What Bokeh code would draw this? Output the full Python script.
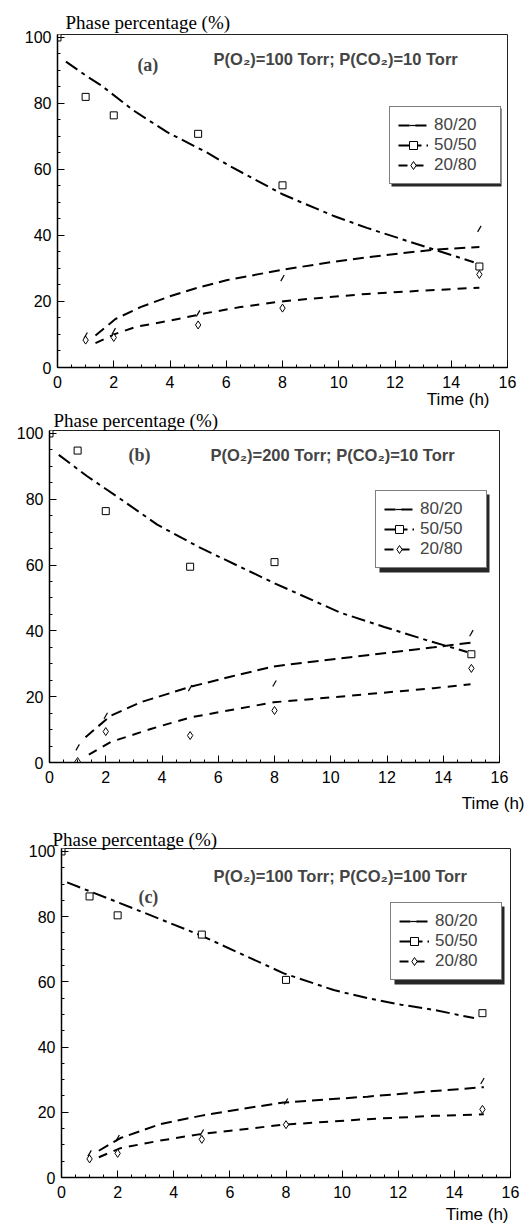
from bokeh.plotting import figure
from bokeh.models import Legend, LegendItem, Label, Title, SingleIntervalTicker, Range1d, BoxAnnotation
from bokeh.embed import file_html
from bokeh.resources import INLINE

# ---------------- data ----------------
t_sq = [0, 1, 2, 5, 8, 15]
t_obs = [1, 2, 5, 8, 15]

# panel (a)
a_5050 = [100, 82, 76.4, 70.8, 55.2, 30.6]
a_8020 = [9.7, 11.0, 16.4, 27.1, 42.0]
a_2080 = [8.3, 9.1, 12.9, 18.0, 28.2]
a_fit5050_x = [0.3, 1.0, 1.55, 2.7, 3.9, 5.3, 6.2, 8.0, 8.6, 9.8, 11.0, 12.2, 13.4, 14.8]
a_fit5050_y = [92.7, 88.5, 85.5, 77.9, 71.3, 65.2, 60.7, 52.5, 50.3, 46.0, 42.3, 39.0, 35.7, 31.9]
a_fit8020_x = [1.35, 2.06, 2.95, 4.0, 5.03, 6.04, 8.05, 9.8, 11.0, 12.2, 13.4, 15.0]
a_fit8020_y = [9.7, 14.7, 18.3, 21.6, 24.3, 26.5, 29.7, 32.0, 33.4, 34.6, 35.7, 36.5]
a_fit2080_x = [1.35, 2.06, 2.83, 4.0, 5.3, 6.5, 8.05, 9.5, 11.0, 13.0, 15.0]
a_fit2080_y = [7.4, 10.2, 12.4, 14.2, 16.5, 18.3, 20.1, 21.2, 22.3, 23.3, 24.2]

# panel (b)
b_5050 = [100, 94.8, 76.4, 59.5, 60.9, 32.9]
b_8020 = [4.6, 14.2, 22.6, 24.0, 39.3]
b_2080 = [0.3, 9.4, 8.2, 15.8, 28.6]
b_fit5050_x = [0.33, 1.34, 2.64, 3.83, 5.37, 7.97, 10.35, 11.9, 13.4, 14.85]
b_fit5050_y = [93.5, 87.0, 79.4, 72.3, 65.2, 54.6, 45.5, 41.2, 37.2, 33.6]
b_fit8020_x = [1.28, 2.17, 3.24, 5.01, 6.5, 7.97, 10.7, 13.66, 14.97]
b_fit8020_y = [7.7, 14.2, 18.3, 23.0, 26.2, 29.2, 32.0, 35.0, 36.4]
b_fit2080_x = [1.4, 2.17, 3.6, 5.01, 7.97, 10.7, 13.66, 14.97]
b_fit2080_y = [2.4, 6.2, 10.2, 13.7, 18.3, 20.3, 22.6, 23.8]

# panel (c)
c_5050 = [100, 86.2, 80.4, 74.5, 60.6, 50.4]
c_8020 = [7.4, 12.1, 13.8, 23.3, 29.6]
c_2080 = [5.7, 7.4, 11.7, 16.2, 20.9]
c_fit5050_x = [0.2, 1.98, 3.47, 4.95, 6.5, 7.92, 9.7, 10.9, 12.1, 13.27, 14.7]
c_fit5050_y = [90.5, 84.5, 79.4, 74.3, 68.2, 62.6, 57.5, 55.0, 53.0, 51.4, 48.9]
c_fit8020_x = [1.33, 2.1, 3.53, 4.95, 6.4, 7.92, 10.9, 13.27, 15.05]
c_fit8020_y = [8.2, 12.1, 16.4, 18.9, 21.0, 23.0, 24.8, 26.5, 27.7]
c_fit2080_x = [1.33, 2.1, 3.5, 4.95, 7.92, 10.9, 13.27, 15.05]
c_fit2080_y = [6.2, 9.0, 11.3, 13.3, 16.2, 17.9, 18.9, 19.4]

series_labels = ["80/20", "50/50", "20/80"]
panel_tags = ["(a)", "(b)", "(c)"]
conditions = ["P(O\u2082)=100 Torr; P(CO\u2082)=10 Torr",
              "P(O\u2082)=200 Torr; P(CO\u2082)=10 Torr",
              "P(O\u2082)=100 Torr; P(CO\u2082)=100 Torr"]
y_title = "Phase percentage (%)"
x_title = "Time (h)"

SANS = "Liberation Sans"
SERIF = "Liberation Serif"
Y_TOP = 100.9
LEG_W = 110   # legend box size in px (padding*2 + glyph + standoff + label)
LEG_H = 78


def make_panel(tag, cond, sq, hk, dm, f50x, f50y, f80x, f80y, f20x, f20y,
               left, right, top, bottom, fw, fh, tag_xy, cond_xy, leg_loc, shadow,
               yt_offset, yt_standoff, xt_offset, xt_standoff):
    p = figure(frame_width=fw, frame_height=fh, output_backend="svg", toolbar_location=None,
               x_range=Range1d(0, 16), y_range=Range1d(0, Y_TOP),
               min_border_left=left, min_border_right=right,
               min_border_top=top, min_border_bottom=bottom)
    p.background_fill_color = "white"
    p.border_fill_color = "white"
    p.grid.visible = False
    p.outline_line_color = "#222222"
    p.outline_line_width = 1

    p.title.text = y_title
    p.title.align = "left"
    p.title.offset = yt_offset
    p.title.standoff = yt_standoff
    p.title.text_font = SERIF
    p.title.text_font_size = "19px"
    p.title.text_font_style = "normal"
    p.title.text_color = "black"

    p.xaxis.ticker = SingleIntervalTicker(interval=2, num_minor_ticks=4)
    p.yaxis.ticker = SingleIntervalTicker(interval=20, num_minor_ticks=4)
    for ax in (p.xaxis, p.yaxis):
        ax.axis_line_width = 1.5
        ax.axis_line_color = "black"
        ax.major_tick_in = 7
        ax.major_tick_out = 0
        ax.minor_tick_in = 3
        ax.minor_tick_out = 0
        ax.major_tick_line_color = "black"
        ax.minor_tick_line_color = "black"
        ax.major_label_text_font = SANS
        ax.major_label_text_font_size = "16px"
        ax.major_label_text_color = "black"
    p.xaxis.major_label_standoff = 8
    p.yaxis.major_label_standoff = 6

    xt = Title(text=x_title, align="right", vertical_align="middle",
               offset=xt_offset, standoff=xt_standoff,
               text_font=SANS, text_font_size="17px", text_font_style="normal", text_color="black")
    p.add_layout(xt, "below")

    # fitted curves
    l80 = p.line(f80x, f80y, line_color="black", line_width=2, line_dash="11 6")
    l50 = p.line(f50x, f50y, line_color="black", line_width=2, line_dash="14 5 4 5")
    l20 = p.line(f20x, f20y, line_color="black", line_width=2, line_dash="9 7")

    # observed points
    s80 = p.scatter(t_obs, hk, marker="dash", angle=1.05, size=7, line_color="black", line_width=1.2)
    s50 = p.scatter(t_sq, sq, marker="square", size=7, fill_color="white", line_color="black", line_width=1)
    s20 = p.scatter(t_obs, dm, marker="diamond", size=8, fill_color="white", line_color="black", line_width=1)

    # legend drop shadow (drawn behind the legend box)
    pxx = fw / 16.0
    pxy = fh / Y_TOP
    lx, ly = leg_loc
    p.add_layout(BoxAnnotation(left=(lx + shadow) / pxx, right=(lx + LEG_W + shadow) / pxx,
                               bottom=(ly - shadow) / pxy, top=(ly + LEG_H - shadow) / pxy,
                               fill_color="black", fill_alpha=0.85, line_color=None))

    legend = Legend(items=[LegendItem(label=series_labels[0], renderers=[l80, s80]),
                           LegendItem(label=series_labels[1], renderers=[l50, s50]),
                           LegendItem(label=series_labels[2], renderers=[l20, s20])],
                    location=leg_loc, margin=0, padding=8, spacing=0,
                    glyph_width=30, glyph_height=20, label_height=20, label_width=58,
                    label_standoff=6,
                    label_text_font=SANS, label_text_font_size="17px",
                    border_line_color="black", border_line_width=1.5,
                    background_fill_color="white", background_fill_alpha=1)
    p.add_layout(legend)

    p.add_layout(Label(x=tag_xy[0], y=tag_xy[1], text=tag, text_font=SERIF,
                       text_font_style="bold", text_font_size="18px", text_baseline="middle"))
    p.add_layout(Label(x=cond_xy[0], y=cond_xy[1], text=cond, text_font=SANS,
                       text_font_style="bold", text_font_size="16.5px", text_baseline="middle"))
    return p


pa = make_panel(panel_tags[0], conditions[0], a_5050, a_8020, a_2080,
                a_fit5050_x, a_fit5050_y, a_fit8020_x, a_fit8020_y, a_fit2080_x, a_fit2080_y,
                left=57, right=23, top=34, bottom=41, fw=450, fh=333,
                tag_xy=(2.84, 91.8), cond_xy=(5.55, 93.5), leg_loc=(332, 183), shadow=2,
                yt_offset=8, yt_standoff=3, xt_offset=18, xt_standoff=-3)
pb = make_panel(panel_tags[1], conditions[1], b_5050, b_8020, b_2080,
                b_fit5050_x, b_fit5050_y, b_fit8020_x, b_fit8020_y, b_fit2080_x, b_fit2080_y,
                left=49, right=31, top=22, bottom=58, fw=450, fh=332,
                tag_xy=(2.81, 93.6), cond_xy=(5.72, 93.6), leg_loc=(326, 194), shadow=4,
                yt_offset=4, yt_standoff=-1, xt_offset=-25, xt_standoff=14)
pc = make_panel(panel_tags[2], conditions[2], c_5050, c_8020, c_2080,
                c_fit5050_x, c_fit5050_y, c_fit8020_x, c_fit8020_y, c_fit2080_x, c_fit2080_y,
                left=61, right=20, top=28, bottom=51, fw=449, fh=329,
                tag_xy=(2.74, 85.9), cond_xy=(5.42, 92.6), leg_loc=(329, 197), shadow=4,
                yt_offset=-9, yt_standoff=-3, xt_offset=2, xt_standoff=7)

# separate roots so that the panels keep their own frame positions
open("out.html", "w").write(file_html([pa, pb, pc], INLINE))
